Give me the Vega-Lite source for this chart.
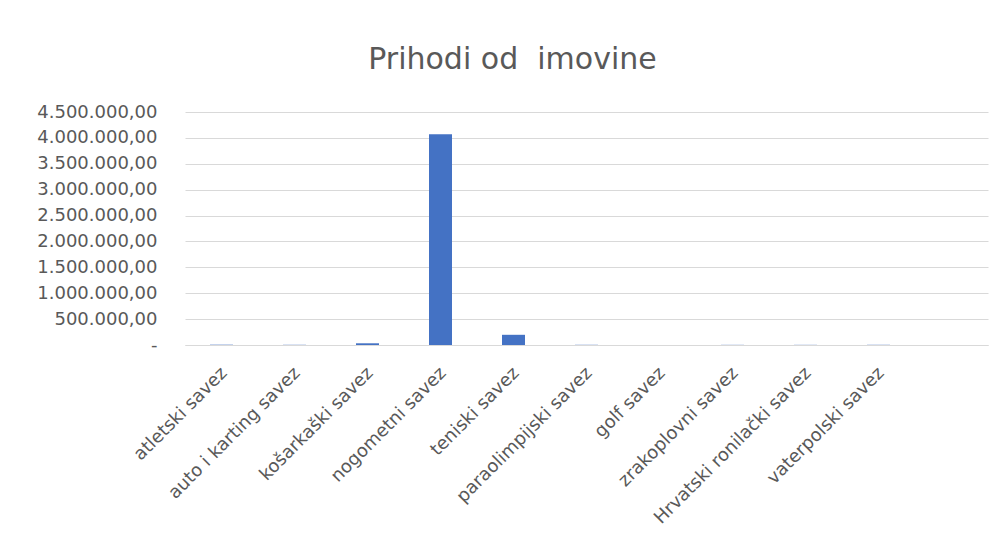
{
  "$schema": "https://vega.github.io/schema/vega-lite/v6.json",
  "autosize": {"type": "none"},
  "width": 803,
  "height": 233,
  "padding": {"left": 185, "top": 112, "right": 17, "bottom": 207},
  "background": "white",
  "config": {
    "locale": {"number": {"decimal": ",", "thousands": ".", "grouping": [3], "currency": ["", ""]}},
    "view": {"stroke": null},
    "font": "DejaVu Sans"
  },
  "title": {
    "text": "Prihodi od\u00a0 imovine",
    "fontSize": 30,
    "fontWeight": "normal",
    "color": "#595959",
    "font": "DejaVu Sans",
    "anchor": "middle",
    "dx": -74,
    "offset": 28
  },
  "data": {
    "values": [
      {"savez": "atletski savez", "iznos": 6000},
      {"savez": "auto i karting savez", "iznos": 4000},
      {"savez": "košarkaški savez", "iznos": 33000},
      {"savez": "nogometni savez", "iznos": 4070000},
      {"savez": "teniski savez", "iznos": 197000},
      {"savez": "paraolimpijski savez", "iznos": 4000},
      {"savez": "golf savez", "iznos": 0},
      {"savez": "zrakoplovni savez", "iznos": 3000},
      {"savez": "Hrvatski ronilački savez", "iznos": 3000},
      {"savez": "vaterpolski savez", "iznos": 4000},
      {"savez": " ", "iznos": 0}
    ]
  },
  "mark": {"type": "bar", "color": "#4472C4"},
  "encoding": {
    "x": {
      "field": "savez",
      "type": "nominal",
      "sort": null,
      "scale": {
        "domain": ["atletski savez", "auto i karting savez", "košarkaški savez", "nogometni savez", "teniski savez", "paraolimpijski savez", "golf savez", "zrakoplovni savez", "Hrvatski ronilački savez", "vaterpolski savez", " "],
        "paddingInner": 0.685,
        "paddingOuter": 0.3425
      },
      "axis": {
        "title": null,
        "labelAngle": -45,
        "labelAlign": "right",
        "labelBaseline": "middle",
        "labelFontSize": 18,
        "labelColor": "#595959",
        "labelPadding": 25,
        "labelOffset": 3,
        "labelOverlap": false,
        "labelLimit": 0,
        "ticks": false,
        "domainColor": "#D9D9D9",
        "domainWidth": 1,
        "grid": false
      }
    },
    "y": {
      "field": "iznos",
      "type": "quantitative",
      "scale": {"domain": [0, 4500000]},
      "axis": {
        "title": null,
        "values": [0, 500000, 1000000, 1500000, 2000000, 2500000, 3000000, 3500000, 4000000, 4500000],
        "format": ",.2f",
        "labelExpr": "datum.value === 0 ? '-\u2002' : datum.label",
        "labelFontSize": 18,
        "labelColor": "#595959",
        "labelPadding": 28,
        "ticks": false,
        "domain": false,
        "gridColor": "#D9D9D9",
        "gridWidth": 1
      }
    }
  }
}
